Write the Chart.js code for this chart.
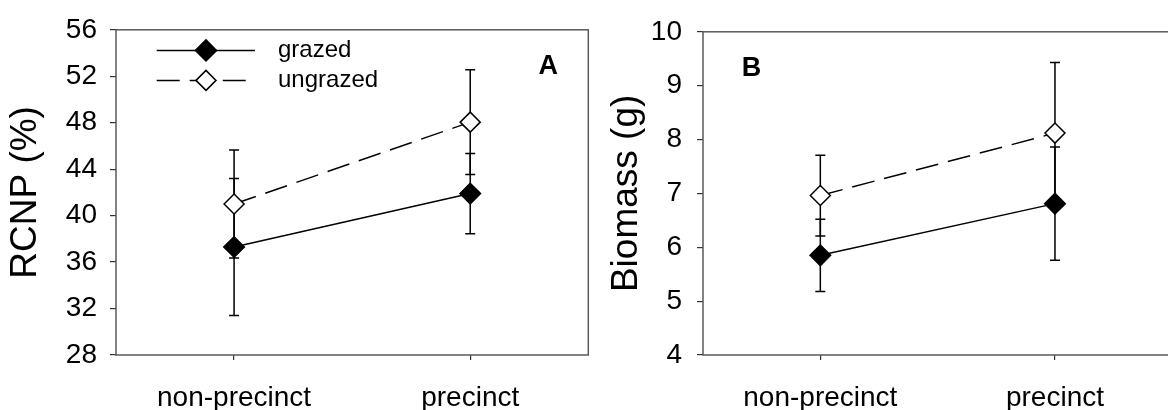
<!DOCTYPE html>
<html><head><meta charset="utf-8">
<script src="https://cdn.jsdelivr.net/npm/chart.js@4.4.1/dist/chart.umd.min.js"></script>
<style>
html,body{margin:0;padding:0;background:#fff;overflow:hidden;width:1168px;height:410px;position:relative;}
.box{position:absolute;top:0;height:410px;width:600px;}
#a{left:0}
#b{left:584px}
</style></head><body>
<div class="box" id="a"><canvas id="ca"></canvas></div>
<div class="box" id="b"><canvas id="cb"></canvas></div>
<script>
// ---- data ----
const categories = ['non-precinct', 'precinct'];
const seriesNames = ['grazed', 'ungrazed'];
const rcnpGrazed = [37.3, 41.9];
const rcnpGrazedErr = [5.9, 3.45];
const rcnpUngrazed = [41.0, 48.05];
const rcnpUngrazedErr = [4.65, 4.5];
const biomassGrazed = [5.85, 6.81];
const biomassGrazedErr = [0.67, 1.05];
const biomassUngrazed = [6.96, 8.12];
const biomassUngrazedErr = [0.75, 1.31];
const rcnpAxis = [28, 56, 4];      // min, max, step
const biomassAxis = [4, 10, 1];    // min, max, step
const panelLabels = ['A', 'B'];
const axisTitles = ['RCNP (%)', 'Biomass (g)'];

const FONT = "'Liberation Sans', Arial, Helvetica, sans-serif";
const FRAME = '#5a5a5a';

function pts(arr) { return arr.map((v, i) => ({ x: i + 1, y: v })); }

function makeDatasets(g, gErr, u, uErr) {
  return [
    { label: seriesNames[0], data: pts(g), errors: gErr,
      borderColor: '#000', borderWidth: 1.5, pointStyle: 'rectRot', pointRadius: 10.5,
      pointBackgroundColor: '#000', pointBorderColor: '#000', pointBorderWidth: 1.2, tension: 0 },
    { label: seriesNames[1], data: pts(u), errors: uErr,
      borderColor: '#000', borderWidth: 1.5, borderDash: [23, 10], pointStyle: 'rectRot', pointRadius: 10,
      pointBackgroundColor: '#fff', pointBorderColor: '#000', pointBorderWidth: 1.5, tension: 0 }
  ];
}

const errorBarPlugin = {
  id: 'errbars',
  beforeDatasetsDraw(chart) {
    const ctx = chart.ctx, ys = chart.scales.y;
    ctx.save();
    ctx.strokeStyle = '#000';
    ctx.lineWidth = 1.5;
    chart.data.datasets.forEach((ds, di) => {
      const meta = chart.getDatasetMeta(di);
      meta.data.forEach((el, i) => {
        const v = ds.data[i].y, e = ds.errors[i];
        const y1 = ys.getPixelForValue(v + e), y2 = ys.getPixelForValue(v - e);
        const x = el.x;
        ctx.beginPath();
        ctx.moveTo(x, y1); ctx.lineTo(x, y2);
        ctx.moveTo(x - 5, y1); ctx.lineTo(x + 5, y1);
        ctx.moveTo(x - 5, y2); ctx.lineTo(x + 5, y2);
        ctx.stroke();
      });
    });
    ctx.restore();
  }
};

const framePlugin = {
  id: 'frame',
  beforeDatasetsDraw(chart) {
    const { ctx, chartArea: a } = chart;
    ctx.save();
    ctx.strokeStyle = FRAME;
    ctx.lineWidth = 1.5;
    ctx.strokeRect(a.left, a.top, a.right - a.left, a.bottom - a.top);
    ctx.restore();
  }
};

function diamond(ctx, x, y, r, fill) {
  ctx.beginPath();
  ctx.moveTo(x - r, y); ctx.lineTo(x, y - r); ctx.lineTo(x + r, y); ctx.lineTo(x, y + r);
  ctx.closePath();
  ctx.fillStyle = fill; ctx.fill();
  ctx.strokeStyle = '#000'; ctx.lineWidth = 1.5; ctx.stroke();
}

const legendPlugin = {
  id: 'lgd',
  afterDraw(chart, args, opts) {
    if (!opts.show) return;
    const { ctx, chartArea: a } = chart;
    const ds = chart.data.datasets;
    ctx.save();
    ds.forEach((d, i) => {
      const y = a.top + 20.6 + i * 30;
      const x0 = a.left + 40.7, x1 = a.left + 139, xc = a.left + 90;
      ctx.strokeStyle = '#000';
      ctx.lineWidth = 1.5;
      ctx.setLineDash(d.borderDash || []);
      ctx.beginPath(); ctx.moveTo(x0, y); ctx.lineTo(x1, y); ctx.stroke();
      ctx.setLineDash([]);
      diamond(ctx, xc, y, i === 0 ? 10.5 : 10, d.pointBackgroundColor);
      ctx.fillStyle = '#000';
      ctx.font = '24px ' + FONT;
      ctx.textAlign = 'left';
      ctx.textBaseline = 'middle';
      ctx.fillText(d.label, a.left + 162, y);
    });
    ctx.restore();
  }
};

const panelLabelPlugin = {
  id: 'plabel',
  afterDraw(chart, args, opts) {
    const { ctx, chartArea: a } = chart;
    ctx.save();
    ctx.fillStyle = '#000';
    ctx.font = 'bold 27px ' + FONT;
    ctx.textAlign = 'center';
    ctx.textBaseline = 'middle';
    const x = opts.side === 'right' ? a.right - 40 : a.left + 48.5;
    ctx.fillText(opts.text, x, a.top + 37);
    ctx.restore();
  }
};

function makeChart(id, datasets, axis, title, label, side, showLegend, yWidth, padRight, titlePad, tickPad) {
  return new Chart(document.getElementById(id), {
    type: 'line',
    data: { datasets },
    plugins: [framePlugin, errorBarPlugin, legendPlugin, panelLabelPlugin],
    options: {
      responsive: true, maintainAspectRatio: false, animation: false, events: [],
      layout: { padding: { top: 23, right: padRight, left: 0, bottom: 0 } },
      plugins: { legend: { display: false }, tooltip: { enabled: false },
        lgd: { show: showLegend }, plabel: { text: label, side } },
      scales: {
        x: {
          type: 'linear', min: 0.5, max: 2.5,
          afterBuildTicks: (s) => { s.ticks = categories.map((c, i) => ({ value: i + 1 })); },
          afterFit: (s) => { s.height = 55; },
          border: { display: false },
          grid: { drawOnChartArea: false, drawTicks: true, tickLength: 5, tickColor: '#333', lineWidth: 1.2 },
          ticks: { color: '#000', font: { family: FONT, size: 28 }, padding: 21,
            maxRotation: 0, autoSkip: false,
            callback: (v) => categories[v - 1] }
        },
        y: {
          min: axis[0], max: axis[1],
          afterFit: (s) => { s.width = yWidth; },
          border: { display: false },
          grid: { drawOnChartArea: false, drawTicks: true, tickLength: 6, tickColor: '#333', lineWidth: 1.2 },
          ticks: { stepSize: axis[2], color: '#000', font: { family: FONT, size: 28 }, padding: tickPad },
          title: { display: true, text: title, color: '#000', font: { family: FONT, size: 37 },
            padding: { top: titlePad, bottom: 0 } }
        }
      }
    }
  });
}

makeChart('ca', makeDatasets(rcnpGrazed, rcnpGrazedErr, rcnpUngrazed, rcnpUngrazedErr),
  rcnpAxis, axisTitles[0], panelLabels[0], 'right', true, 116, 8, 4, 13);
makeChart('cb', makeDatasets(biomassGrazed, biomassGrazedErr, biomassUngrazed, biomassUngrazedErr),
  biomassAxis, axisTitles[1], panelLabels[1], 'left', false, 119, 5, 21, 15);
</script>
</body></html>
